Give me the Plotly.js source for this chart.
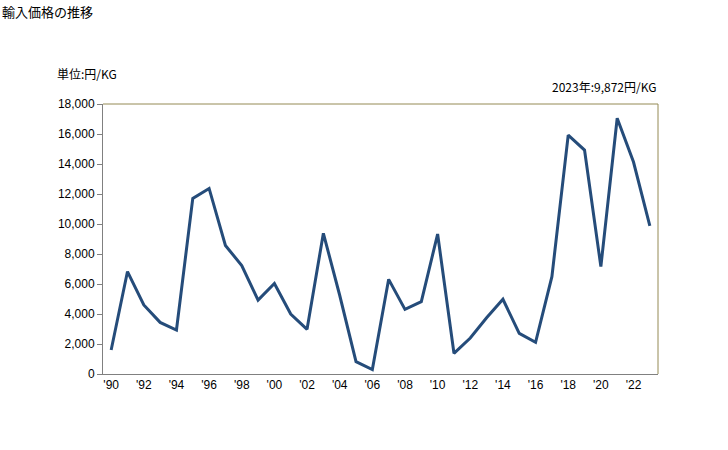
<!DOCTYPE html>
<html><head><meta charset="utf-8">
<script src="https://cdn.plot.ly/plotly-3.0.1.min.js"></script>
<style>html,body{margin:0;padding:0;background:#fff;}#c{width:728px;height:450px;}</style>
</head><body><div id="c"></div>
<script>
const years = [1990,1991,1992,1993,1994,1995,1996,1997,1998,1999,2000,2001,2002,2003,2004,2005,2006,2007,2008,2009,2010,2011,2012,2013,2014,2015,2016,2017,2018,2019,2020,2021,2022,2023];
const prices = [1600,6830,4600,3440,2930,11710,12370,8570,7230,4930,6030,4000,2980,9380,5250,820,300,6310,4310,4820,9330,1380,2400,3750,4980,2710,2110,6490,15930,14930,7160,17050,14130,9872];
const tickYears = [1990,1992,1994,1996,1998,2000,2002,2004,2006,2008,2010,2012,2014,2016,2018,2020,2022];
const tickLabels = ["'90","'92","'94","'96","'98","'00","'02","'04","'06","'08","'10","'12","'14","'16","'18","'20","'22"];
const yTicks = [0,2000,4000,6000,8000,10000,12000,14000,16000,18000];
const chartTitle = "輸入価格の推移";
const unitLabel = "単位:円/KG";
const latestLabel = "2023年:9,872円/KG";

const font = "'Liberation Sans', 'Noto Sans CJK JP', sans-serif";
Plotly.newPlot('c', [{
  x: years, y: prices, type: 'scatter', mode: 'lines',
  line: {color: '#254C7A', width: 3}, hoverinfo: 'skip'
}], {
  width: 728, height: 450,
  margin: {l: 103, r: 70, t: 104, b: 76},
  paper_bgcolor: '#fff', plot_bgcolor: '#fff',
  showlegend: false,
  font: {family: font, size: 12, color: '#000'},
  xaxis: {
    range: [1989.5, 2023.5], tickvals: tickYears, ticktext: tickLabels,
    showgrid: false, zeroline: false, showline: true, linecolor: '#808080', linewidth: 1,
    ticks: '', ticklen: 0, tickfont: {size: 12, family: font}
  },
  yaxis: {
    range: [0, 18000], tickvals: yTicks, tickformat: ',d',
    showgrid: false, zeroline: false, showline: true, linecolor: '#808080', linewidth: 1,
    ticks: 'outside', ticklen: 5, tickcolor: '#808080', tickfont: {size: 12, family: font}
  },
  shapes: [
    {type: 'line', xref: 'paper', yref: 'paper', x0: 0, x1: 1, y0: 1, y1: 1, line: {color: '#948A54', width: 1}},
    {type: 'line', xref: 'paper', yref: 'paper', x0: 1, x1: 1, y0: 0, y1: 1, line: {color: '#948A54', width: 1}}
  ],
  annotations: [
    {text: chartTitle, xref: 'paper', yref: 'paper', x: -103/555, y: 1 + 92/270, xanchor: 'left', yanchor: 'middle', showarrow: false, font: {size: 13, family: "'Noto Sans CJK JP', sans-serif"}},
    {text: unitLabel, xref: 'paper', yref: 'paper', x: -48/555, y: 1 + 31/270, xanchor: 'left', yanchor: 'middle', showarrow: false, font: {size: 12, family: "'Noto Sans CJK JP', sans-serif"}},
    {text: latestLabel, xref: 'paper', yref: 'paper', x: 1, y: 1 + 18/270, xanchor: 'right', yanchor: 'middle', showarrow: false, font: {size: 12, family: "'Noto Sans CJK JP', sans-serif"}}
  ]
}, {displayModeBar: false, staticPlot: true});
</script></body></html>
